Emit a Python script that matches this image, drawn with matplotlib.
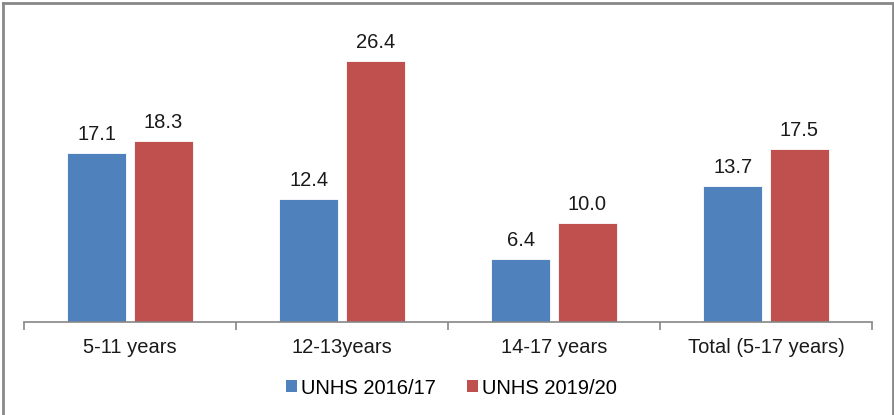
import matplotlib
matplotlib.use("Agg")
import matplotlib.pyplot as plt
from matplotlib.patches import Patch
from matplotlib.lines import Line2D
import numpy as np

categories = ["5-11 years", "12-13years", "14-17 years", "Total (5-17 years)"]
series_names = ["UNHS 2016/17", "UNHS 2019/20"]
values_2016 = [17.1, 12.4, 6.4, 13.7]
values_2019 = [18.3, 26.4, 10.0, 17.5]
colors = ["#4F81BD", "#C0504D"]

plt.rcParams['font.family'] = ['Liberation Sans', 'DejaVu Sans']
FS = 14.5

fig = plt.figure(figsize=(8.94, 4.15), dpi=100)
ax = fig.add_axes([24/894, 1-322/415, (872-24)/894, (322-25)/415])

x = np.arange(len(categories))
w = 0.278
off = 0.157
for vals, c, o in [(values_2016, colors[0], -off), (values_2019, colors[1], off)]:
    bars = ax.bar(x + o, vals, width=w, color=c, edgecolor='white', linewidth=0.6)
    for b, v in zip(bars, vals):
        ax.annotate(f"{v:.1f}", (b.get_x() + b.get_width()/2, v), xytext=(0, 6.5),
                    textcoords='offset points', ha='center', va='bottom', fontsize=FS, color='#1a1a1a')

ax.set_xlim(-0.5, len(categories) - 0.5)
ax.set_ylim(0, 30)
ax.set_yticks([])
for s in ['top', 'right', 'left']:
    ax.spines[s].set_visible(False)
ax.spines['bottom'].set_color('#868686')
ax.spines['bottom'].set_linewidth(1.2)
ax.set_xticks(x)
ax.set_xticklabels(categories, fontsize=FS, color='#1a1a1a')
ax.tick_params(axis='x', which='major', length=0, pad=11.5)
ax.set_xticks(np.arange(len(categories) + 1) - 0.5, minor=True)
ax.tick_params(axis='x', which='minor', length=6, color='#868686', width=1.2)

handles = [Patch(facecolor=c, edgecolor='none') for c in colors]
fig.legend(handles, series_names, loc='center', bbox_to_anchor=(0.505, 0.065), ncol=2,
           frameon=False, fontsize=FS, handlelength=0.55, handleheight=0.55,
           handletextpad=0.2, columnspacing=1.5)

# figure border
bc = '#888888'
fig.add_artist(Line2D([2.5/894, 2.5/894], [0, 1-3/415], transform=fig.transFigure, color=bc, lw=2))
fig.add_artist(Line2D([2.5/894, 893/894], [1-3/415, 1-3/415], transform=fig.transFigure, color=bc, lw=2))
fig.add_artist(Line2D([893/894, 893/894], [0, 1-3/415], transform=fig.transFigure, color=bc, lw=2))

fig.savefig("out.png", dpi=100)
